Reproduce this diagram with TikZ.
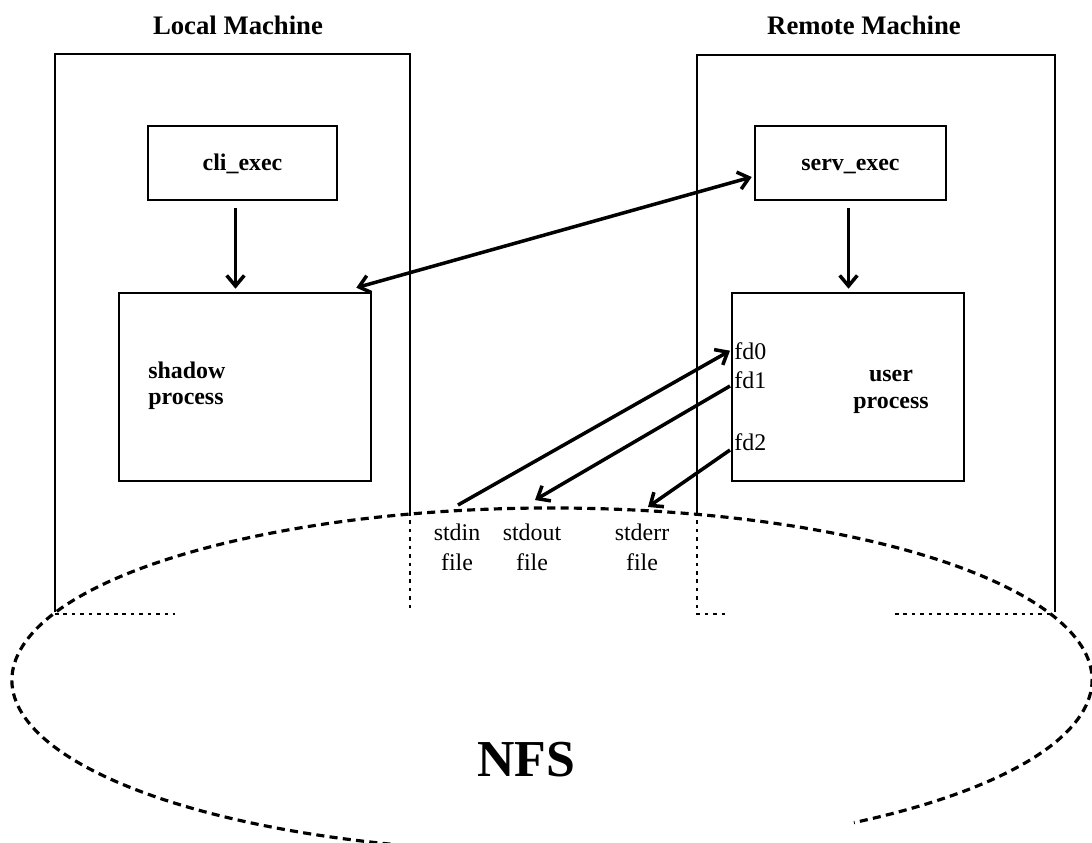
\documentclass[tikz,border=0pt]{standalone}
\usepackage{fontspec}
\setmainfont{Liberation Serif}
\usetikzlibrary{arrows.meta,calc}
\begin{document}
\begin{tikzpicture}[x=0.02cm,y=-0.02cm,
  frame/.style={line width=1.5pt},
  dotline/.style={line width=1.5pt, dash pattern=on 2pt off 2.8pt},
  nfsline/.style={line width=1.8pt, dash pattern=on 4.6pt off 3pt},
  proc/.style={draw, line width=1.5pt, inner sep=0pt, text height=11pt, text depth=3pt, font=\fontsize{13.6}{15}\selectfont\bfseries},
  boxtext/.style={inner sep=0pt, font=\fontsize{13.6}{15}\selectfont\bfseries},
  fdtext/.style={inner sep=0pt, font=\fontsize{13.6}{15}\selectfont},
  filetext/.style={inner sep=0pt, align=center, font=\fontsize{13.6}{17}\selectfont},
  title/.style={inner sep=0pt, font=\fontsize{15.2}{18}\selectfont\bfseries},
  nfstext/.style={inner sep=0pt, font=\fontsize{29.5}{32}\selectfont\bfseries},
  arr/.style={line width=2pt, -{Straight Barb[length=6pt,width=10pt]}},
  dblarr/.style={line width=2pt, {Straight Barb[length=6pt,width=10pt]}-{Straight Barb[length=6pt,width=10pt]}},
]
\useasboundingbox (0,0) rectangle (1092,842);

% titles
\node[title, anchor=base] (localtitle) at (238,34.5) {Local Machine};
\node[title, anchor=base] (remotetitle) at (864,34.5) {Remote Machine};

% machine frames
\draw[frame] (55,612) -- (55,54) -- (410,54) -- (410,512);
\draw[dotline] (410,512) -- (410,610);
\draw[dotline] (55,614) -- (175,614);
\draw[frame] (697,512) -- (697,55) -- (1055,55) -- (1055,612);
\draw[dotline] (697,512) -- (697,614) -- (725,614);
\draw[dotline] (895,614) -- (1055,614);

% NFS ellipse (partial)
\draw[nfsline] (430.5,847.6) arc[start angle=103, end angle=416, x radius=540, y radius=172];
\node[nfstext, anchor=base] (nfs) at (526,776) {NFS};

% process boxes
\node[proc, minimum width=3.78cm, minimum height=1.48cm] (cli) at (242.5,163) {cli\_exec};
\node[proc, minimum width=5.04cm, minimum height=3.76cm] (shadow) at (245,387) {};
\node[boxtext, align=left, anchor=west] (shadowtxt) at (148,386) {shadow\\process};
\node[proc, minimum width=3.82cm, minimum height=1.48cm] (serv) at (850.5,163) {serv\_exec};
\node[proc, minimum width=4.64cm, minimum height=3.76cm] (user) at (848,387) {};
\node[boxtext, align=center] (usertxt) at (891,392) {user\\process};

% fd labels
\node[fdtext, anchor=base west] (fd0) at (734,359) {fd0};
\node[fdtext, anchor=base west] (fd1) at (734,388) {fd1};
\node[fdtext, anchor=base west] (fd2) at (734,450) {fd2};

% file labels
\node[filetext] (stdin) at (457,547) {stdin\\file};
\node[filetext] (stdout) at (532,547) {stdout\\file};
\node[filetext] (stderr) at (642,547) {stderr\\file};

\coordinate (stdinTop) at (458,505);
\coordinate (stdoutTop) at (535,500);
\coordinate (stderrTop) at (648,507);

% connectors
\draw[arr] ($(cli.south)+(-7,7)$) -- ($(cli.south |- shadow.north)+(-7,-3)$);
\draw[arr] ($(serv.south)+(-2,7)$) -- ($(serv.south |- user.north)+(-2,-3)$);
\draw[dblarr] ($(shadow.north east)+(-16,-4)$) -- ($(serv.west)+(-2,14)$);
\draw[arr] (stdinTop) -- ($(fd0.west)+(-4,0)$);
\draw[arr] ($(fd1.base west)+(-4,-2)$) -- (stdoutTop);
\draw[arr] ($(fd2.base west)+(-4,0)$) -- (stderrTop);
\end{tikzpicture}
\end{document}
